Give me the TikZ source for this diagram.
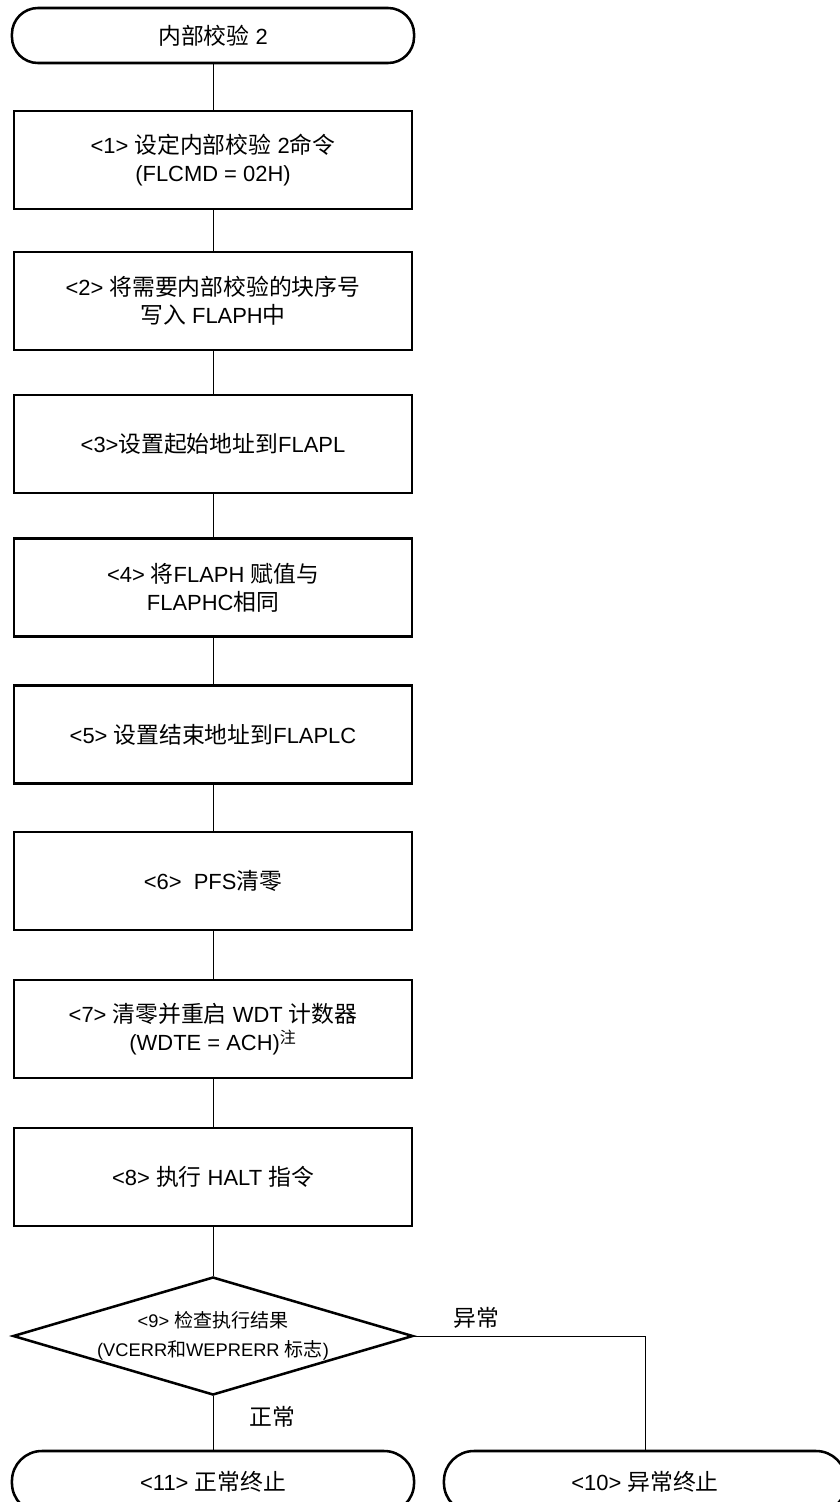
\documentclass[tikz,border=0pt]{standalone}
\usepackage{fontspec}
\setmainfont{Liberation Sans}
\newfontfamily\zhfont[Scale=1.04]{Noto Sans CJK SC}
\newcommand{\zh}[1]{{\zhfont #1}}
\usetikzlibrary{shapes.geometric}

\begin{document}
\begin{tikzpicture}[x=0.025cm,y=-0.025cm,
  font=\fontsize{15.6}{19.9}\selectfont,
  stepbox/.style={rectangle,draw,line width=1.8pt,minimum width=9.95cm,
    minimum height=2.45cm,inner sep=0pt,align=center},
  terminal/.style={rectangle,draw,line width=1.8pt,rounded corners=0.65cm,
    minimum width=10.05cm,minimum height=1.375cm,inner sep=0pt,align=center},
  bigterminal/.style={terminal,rounded corners=0.75cm,minimum height=1.55cm},
  decision/.style={diamond,draw,line width=1.8pt,aspect=3.39,inner sep=0pt,
    minimum width=10cm,minimum height=2.95cm,align=center,
    font=\fontsize{13}{21}\selectfont},
  flowline/.style={line width=0.7pt},
  branchlabel/.style={inner sep=0pt}]
  \fill[white] (0,0) rectangle (840,1502);
  \path[use as bounding box] (0,0) rectangle (840,1502);
  \clip (0,0) rectangle (840,1502);

  \node[terminal] (start) at (213,35.5) {\zh{内部校验} 2};
  \node[stepbox] (b1) at (213,160) {<1> \zh{设定内部校验} 2\zh{命令}\\(FLCMD = 02H)};
  \node[stepbox] (b2) at (213,301) {<2> \zh{将需要内部校验的块序号}\\\zh{写入} FLAPH\zh{中}};
  \node[stepbox] (b3) at (213,444) {<3>\zh{设置起始地址到}FLAPL};
  \node[stepbox] (b4) at (213,587.5) {<4> \zh{将}FLAPH \zh{赋值与}\\FLAPHC\zh{相同}};
  \node[stepbox] (b5) at (213,734.5) {<5> \zh{设置结束地址到}FLAPLC};
  \node[stepbox] (b6) at (213,881) {<6>\ \ PFS\zh{清零}};
  \node[stepbox] (b7) at (213,1029) {<7> \zh{清零并重启} WDT \zh{计数器}\\(WDTE = ACH)\textsuperscript{\zh{注}}};
  \node[stepbox] (b8) at (213,1177) {<8> \zh{执行} HALT \zh{指令}};
  \node[decision] (check) at (213,1336) {<9> \zh{检查执行结果}\\(VCERR\zh{和}WEPRERR \zh{标志})};
  \node[bigterminal] (okend) at (213,1482) {<11> \zh{正常终止}};
  \node[bigterminal] (errend) at (645,1482) {<10> \zh{异常终止}};

  \foreach \u/\v in {start/b1,b1/b2,b2/b3,b3/b4,b4/b5,b5/b6,b6/b7,b7/b8,b8/check,check/okend}
    {\draw[flowline] (\u)--(\v);}
  \draw[flowline] (check.east) -| (errend.north);

  \node[branchlabel] (errlabel) at (476,1318) {\zh{异常}};
  \node[branchlabel] (oklabel) at (272,1417) {\zh{正常}};
\end{tikzpicture}
\end{document}
